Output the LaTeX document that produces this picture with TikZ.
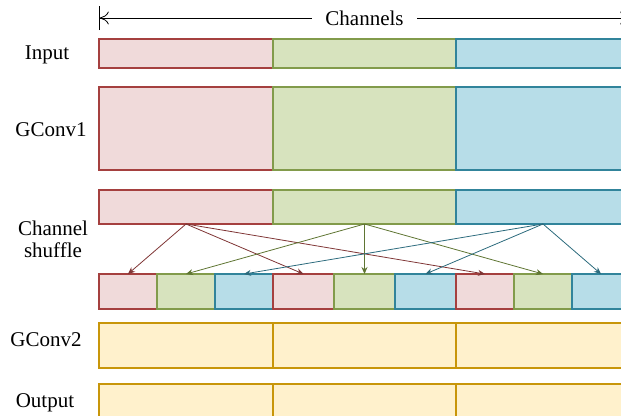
\documentclass[tikz,border=0pt]{standalone}
\usepackage{fontspec}
\setmainfont{Liberation Serif}
\usetikzlibrary{positioning,arrows.meta}

\definecolor{redfill}{HTML}{F0DADA}
\definecolor{redline}{HTML}{A5403F}
\definecolor{redarr}{HTML}{7F3535}
\definecolor{greenfill}{HTML}{D7E3BE}
\definecolor{greenline}{HTML}{829B4B}
\definecolor{greenarr}{HTML}{5F7533}
\definecolor{bluefill}{HTML}{B7DDE8}
\definecolor{blueline}{HTML}{31849B}
\definecolor{bluearr}{HTML}{2B6A7C}
\definecolor{yelfill}{HTML}{FFF1CC}
\definecolor{yelline}{HTML}{C8960A}

\begin{document}
\begin{tikzpicture}[x=1pt,y=-1pt,>={Stealth[length=7pt,width=6pt]},
    font=\rmfamily\fontsize{21}{22}\selectfont,
    cell/.style={draw,inner sep=0pt,outer sep=0pt,line width=1.1pt},
    red cell/.style={cell,draw=redline,fill=redfill},
    green cell/.style={cell,draw=greenline,fill=greenfill},
    blue cell/.style={cell,draw=blueline,fill=bluefill},
    yel cell/.style={cell,draw=yelline,fill=yelfill},
    side/.style={minimum width=174pt},
    mid/.style={minimum width=183pt},
    shuf arrow/.style={->,line width=0.8pt},
    row name/.style={align=center}]
    \useasboundingbox (0,0) rectangle (621,415);
    \clip (0,0) rectangle (621,415);

    % channel axis
    \coordinate (chl) at (99,18);
    \coordinate (chr) at (630,18);
    \draw[line width=0.8pt,{Bar[width=24pt]To[length=9pt,width=13pt]}-{To[length=9pt,width=13pt]Bar[width=24pt]}]
    (chl) -- node[fill=white,inner xsep=13pt] {Channels} (chr);

    % input
    \node[red cell,side,minimum height=29pt,anchor=north west] (in1) at (99,39) {};
    \node[green cell,mid,minimum height=29pt,right=0pt of in1] (in2) {};
    \node[blue cell,side,minimum height=29pt,right=0pt of in2] (in3) {};

    % first group conv
    \node[red cell,side,minimum height=83pt,anchor=north west] (gc1) at (99,87) {};
    \node[green cell,mid,minimum height=83pt,right=0pt of gc1] (gc2) {};
    \node[blue cell,side,minimum height=83pt,right=0pt of gc2] (gc3) {};

    % shuffle, groups before
    \node[red cell,side,minimum height=34pt,anchor=north west] (sh1) at (99,190) {};
    \node[green cell,mid,minimum height=34pt,right=0pt of sh1] (sh2) {};
    \node[blue cell,side,minimum height=34pt,right=0pt of sh2] (sh3) {};

    % shuffle, channels after
    \node[red cell,minimum width=58pt,minimum height=35pt,anchor=north west] (s1) at (99,274) {};
    \node[green cell,minimum width=58pt,minimum height=35pt,right=0pt of s1] (s2) {};
    \node[blue cell,minimum width=58pt,minimum height=35pt,right=0pt of s2] (s3) {};
    \node[red cell,minimum width=61pt,minimum height=35pt,right=0pt of s3] (s4) {};
    \node[green cell,minimum width=61pt,minimum height=35pt,right=0pt of s4] (s5) {};
    \node[blue cell,minimum width=61pt,minimum height=35pt,right=0pt of s5] (s6) {};
    \node[red cell,minimum width=58pt,minimum height=35pt,right=0pt of s6] (s7) {};
    \node[green cell,minimum width=58pt,minimum height=35pt,right=0pt of s7] (s8) {};
    \node[blue cell,minimum width=58pt,minimum height=35pt,right=0pt of s8] (s9) {};

    \path[every edge/.style={draw=redarr,shuf arrow}]
    (sh1.south) edge (s1.north) edge (s4.north) edge (s7.north);
    \path[every edge/.style={draw=greenarr,shuf arrow}]
    (sh2.south) edge (s2.north) edge (s5.north) edge (s8.north);
    \path[every edge/.style={draw=bluearr,shuf arrow}]
    (sh3.south) edge (s3.north) edge (s6.north) edge (s9.north);

    % second group conv and output
    \node[yel cell,side,minimum height=45pt,anchor=north west] (gd1) at (99,323) {};
    \node[yel cell,mid,minimum height=45pt,right=0pt of gd1] (gd2) {};
    \node[yel cell,side,minimum height=45pt,right=0pt of gd2] (gd3) {};

    \node[yel cell,side,minimum height=45pt,anchor=north west] (out1) at (99,384) {};
    \node[yel cell,mid,minimum height=45pt,right=0pt of out1] (out2) {};
    \node[yel cell,side,minimum height=45pt,right=0pt of out2] (out3) {};

    % row names
    \node[row name] (nin) at (47,55) {Input};
    \node[row name] (ngc1) at (51,130) {GConv1};
    \node[row name] (nsh) at (53,239) {Channel\\shuffle};
    \node[row name] (ngc2) at (46,340) {GConv2};
    \node[row name] (nout) at (45,403) {Output};
\end{tikzpicture}
\end{document}
